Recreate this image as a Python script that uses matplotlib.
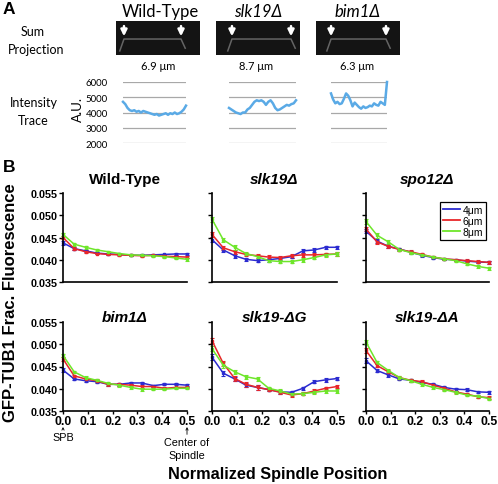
import numpy as np
import matplotlib
matplotlib.use("Agg")
import matplotlib.pyplot as plt
from matplotlib.lines import Line2D

plt.rcParams['font.family'] = ['Liberation Sans', 'DejaVu Sans']

# ---- panel A data ----
strains_a = ['Wild-Type', 'slk19Δ', 'bim1Δ']
italic_a = [False, True, True]
lengths_a = ['6.9 μm', '8.7 μm', '6.3 μm']
spb_left = [0.095, 0.19, 0.179]
spb_right = [0.774, 0.893, 0.833]
trace_ticks = [2000, 3000, 4000, 5000, 6000]

trace_wt = [4700, 4550, 4300, 4150, 4100, 4150, 4050, 4100, 4000, 4100, 4050, 4000,
            3950, 3900, 3850, 3900, 3800, 3850, 3900, 3950, 3850, 3950, 3900, 4000,
            3900, 3950, 4050, 4200, 4450]
trace_slk19 = [4300, 4200, 4100, 4000, 3950, 3900, 4000, 4000, 4200, 4300, 4500, 4700,
               4800, 4750, 4800, 4700, 4500, 4700, 4800, 4600, 4300, 4150, 4200, 4300,
               4400, 4500, 4450, 4550, 4600, 4800]
trace_bim1 = [5250, 4850, 4600, 4700, 4550, 4600, 4900, 5250, 5100, 4800, 4400, 4650,
              4500, 4350, 4250, 4400, 4300, 4350, 4450, 4400, 4600, 4500, 4450, 4700,
              4600, 4500, 6000]

# ---- panel B data ----
pos = [0.0, 0.045, 0.091, 0.136, 0.182, 0.227, 0.273, 0.318, 0.364, 0.409, 0.455, 0.5]
sizes = ['4μm', '6μm', '8μm']
titles_b = ['Wild-Type', 'slk19Δ', 'spo12Δ', 'bim1Δ', 'slk19-ΔG', 'slk19-ΔA']
y_ticks = [0.035, 0.040, 0.045, 0.050, 0.055]
x_ticks = [0.0, 0.1, 0.2, 0.3, 0.4, 0.5]

wt_4 = [0.0438, 0.0425, 0.0420, 0.0415, 0.0413, 0.0412, 0.0410, 0.0410, 0.0411, 0.0412, 0.0413, 0.0413]
wt_6 = [0.0450, 0.0425, 0.0418, 0.0414, 0.0412, 0.0411, 0.0410, 0.0409, 0.0410, 0.0408, 0.0407, 0.0406]
wt_8 = [0.0457, 0.0435, 0.0428, 0.0422, 0.0418, 0.0414, 0.0411, 0.0410, 0.0409, 0.0407, 0.0404, 0.0401]
wt_err = [0.0004, 0.0003, 0.0003, 0.0002, 0.0002, 0.0002, 0.0002, 0.0002, 0.0002, 0.0002, 0.0003, 0.0003]

slk_4 = [0.0445, 0.0422, 0.0409, 0.0401, 0.0398, 0.0400, 0.0403, 0.0407, 0.0420, 0.0422, 0.0428, 0.0428]
slk_6 = [0.0457, 0.0427, 0.0418, 0.0412, 0.0409, 0.0406, 0.0405, 0.0409, 0.0411, 0.0411, 0.0412, 0.0413]
slk_8 = [0.0491, 0.0445, 0.0428, 0.0414, 0.0407, 0.0398, 0.0396, 0.0396, 0.0400, 0.0405, 0.0411, 0.0413]
slk_err = [0.0006, 0.0005, 0.0005, 0.0004, 0.0004, 0.0004, 0.0003, 0.0004, 0.0004, 0.0004, 0.0004, 0.0004]

spo_4 = [0.0464, 0.0442, 0.0430, 0.0424, 0.0417, 0.0410, 0.0405, 0.0401, 0.0400, 0.0397, 0.0395, 0.0394]
spo_6 = [0.0469, 0.0440, 0.0430, 0.0423, 0.0418, 0.0412, 0.0406, 0.0402, 0.0400, 0.0398, 0.0396, 0.0394]
spo_8 = [0.0486, 0.0455, 0.0440, 0.0423, 0.0416, 0.0411, 0.0406, 0.0402, 0.0398, 0.0391, 0.0385, 0.0381]
spo_err = [0.0005, 0.0005, 0.0004, 0.0003, 0.0003, 0.0003, 0.0003, 0.0002, 0.0002, 0.0003, 0.0003, 0.0003]

bim_4 = [0.0442, 0.0422, 0.0418, 0.0416, 0.0410, 0.0410, 0.0413, 0.0413, 0.0407, 0.0410, 0.0410, 0.0408]
bim_6 = [0.0467, 0.0429, 0.0422, 0.0418, 0.0410, 0.0410, 0.0408, 0.0405, 0.0405, 0.0401, 0.0403, 0.0403]
bim_8 = [0.0475, 0.0438, 0.0425, 0.0419, 0.0412, 0.0408, 0.0403, 0.0399, 0.0399, 0.0399, 0.0401, 0.0401]
bim_err = [0.0004, 0.0003, 0.0003, 0.0003, 0.0003, 0.0003, 0.0003, 0.0003, 0.0002, 0.0002, 0.0002, 0.0002]

dg_4 = [0.0471, 0.0435, 0.0422, 0.0408, 0.0403, 0.0398, 0.0393, 0.0392, 0.0401, 0.0416, 0.0420, 0.0423]
dg_6 = [0.0508, 0.0457, 0.0423, 0.0410, 0.0403, 0.0398, 0.0392, 0.0386, 0.0389, 0.0395, 0.0401, 0.0405]
dg_8 = [0.0490, 0.0453, 0.0438, 0.0427, 0.0422, 0.0401, 0.0395, 0.0388, 0.0389, 0.0392, 0.0395, 0.0395]
dg_err = [0.0006, 0.0006, 0.0005, 0.0005, 0.0005, 0.0004, 0.0004, 0.0004, 0.0004, 0.0004, 0.0004, 0.0004]

da_4 = [0.0463, 0.0441, 0.0431, 0.0422, 0.0419, 0.0414, 0.0410, 0.0403, 0.0399, 0.0398, 0.0393, 0.0392]
da_6 = [0.0486, 0.0452, 0.0438, 0.0425, 0.0419, 0.0416, 0.0408, 0.0401, 0.0393, 0.0388, 0.0382, 0.0380]
da_8 = [0.0505, 0.0459, 0.0441, 0.0425, 0.0418, 0.0410, 0.0403, 0.0398, 0.0392, 0.0386, 0.0383, 0.0378]
da_err = [0.0005, 0.0004, 0.0004, 0.0003, 0.0003, 0.0003, 0.0003, 0.0003, 0.0003, 0.0003, 0.0003, 0.0003]

panel_series = [(wt_4, wt_6, wt_8, wt_err), (slk_4, slk_6, slk_8, slk_err),
                (spo_4, spo_6, spo_8, spo_err), (bim_4, bim_6, bim_8, bim_err),
                (dg_4, dg_6, dg_8, dg_err), (da_4, da_6, da_8, da_err)]
colors = ['#2b2bd0', '#e8262a', '#6ee62a']

fig = plt.figure(figsize=(4.98, 4.85), dpi=100)
W, H = 498.0, 485.0


def px_axes(x0, y0, x1, y1):
    return fig.add_axes([x0 / W, 1 - y1 / H, (x1 - x0) / W, (y1 - y0) / H])


afont = ['Lato', 'DejaVu Sans']

# ---------------- Panel A ----------------
fig.text(3 / W, 1 - 9 / H, 'A', fontsize=12.5, fontweight='bold', va='center')
fig.text(33 / W, 1 - 32 / H, 'Sum', fontsize=9, ha='center', va='center', family=afont)
fig.text(36 / W, 1 - 50 / H, 'Projection', fontsize=9, ha='center', va='center', family=afont)
fig.text(34 / W, 1 - 103 / H, 'Intensity', fontsize=9, ha='center', va='center', family=afont)
fig.text(33 / W, 1 - 121 / H, 'Trace', fontsize=9, ha='center', va='center', family=afont)
fig.text(78 / W, 1 - 110 / H, 'A.U.', fontsize=9.5, ha='center', va='center', rotation=90, family=afont)

img_x = [116, 216, 316]
len_x = [158, 256, 357]
trace_x = [(123, 186), (229, 296), (331, 387)]
traces = [trace_wt, trace_slk19, trace_bim1]
title_x = [160, 258, 358]

for i in range(3):
    fig.text(title_x[i] / W, 1 - 12 / H, strains_a[i], fontsize=12, ha='center', va='center',
             style='italic' if italic_a[i] else 'normal', family=afont)
    ax = px_axes(img_x[i], 22, img_x[i] + 84, 56)
    ax.set_facecolor('#141414')
    ax.set_xlim(0, 1)
    ax.set_ylim(0, 1)
    ax.set_xticks([])
    ax.set_yticks([])
    for s in ax.spines.values():
        s.set_visible(False)
    l, r = spb_left[i], spb_right[i]
    ax.plot([l - 0.05, l, r, r + 0.05], [0.12, 0.47, 0.47, 0.2], color='#9a9a9a', lw=1.1, alpha=0.6)
    for xa in (l, r):
        ax.annotate('', xy=(xa, 0.55), xytext=(xa, 0.85),
                    arrowprops=dict(arrowstyle='-|>', color='white', lw=1.8, mutation_scale=9,
                                    shrinkA=0, shrinkB=0))
    fig.text(len_x[i] / W, 1 - 66 / H, lengths_a[i], fontsize=8, ha='center', va='center', family=afont)

    tax = px_axes(trace_x[i][0], 83, trace_x[i][1], 144)
    tax.set_ylim(2000, 6000)
    tax.set_xlim(0, len(traces[i]) - 1)
    for t in trace_ticks:
        tax.axhline(t, color='#a8a8a8', lw=0.9, zorder=1)
    tax.plot(range(len(traces[i])), traces[i], color='#5aaae6', lw=1.8, zorder=2, clip_on=False)
    for s in tax.spines.values():
        s.set_visible(False)
    tax.set_xticks([])
    tax.set_yticks(trace_ticks)
    tax.tick_params(axis='y', length=0, pad=11, labelsize=7)
    if i > 0:
        tax.set_yticklabels([])
    else:
        for lab in tax.get_yticklabels():
            lab.set_family(afont)

# ---------------- Panel B ----------------
fig.text(3 / W, 1 - 168 / H, 'B', fontsize=12.5, fontweight='bold', va='center')

cols = [(63, 187), (212, 337), (366, 489)]
rows = [(194, 283), (323, 412)]
title_y = [1.16, 1.06]

for k in range(6):
    r, c = divmod(k, 3)
    ax = px_axes(cols[c][0], rows[r][0], cols[c][1], rows[r][1])
    s4, s6, s8, err = panel_series[k]
    for series, col in zip((s4, s6, s8), colors):
        ax.errorbar(pos, series, yerr=err, color=col, lw=1.1, marker='s', ms=1.8,
                    elinewidth=0.8, capsize=1.5, capthick=0.8, clip_on=False)
    ax.set_xlim(0, 0.5)
    ax.set_ylim(0.035, 0.055)
    ax.set_yticks(y_ticks)
    ax.spines['top'].set_visible(False)
    ax.spines['right'].set_visible(False)
    ax.spines['left'].set_linewidth(1.2)
    ax.spines['bottom'].set_linewidth(1.2)
    ax.tick_params(axis='y', length=3, width=1, labelsize=7.8, pad=1)
    if c == 0:
        ax.set_yticklabels(['%.3f' % v for v in y_ticks], fontweight='bold')
    else:
        ax.set_yticklabels([])
    if r == 0:
        ax.set_xticks([])
    else:
        ax.set_xticks(x_ticks)
        ax.set_xticklabels(['%.1f' % v for v in x_ticks], fontweight='bold', fontsize=8.8)
        ax.tick_params(axis='x', length=2, width=1, pad=1)
    ax.text(0.5, title_y[r], titles_b[k], transform=ax.transAxes, ha='center', va='center',
            fontsize=11, fontweight='bold', style='normal' if k == 0 else 'italic')
    if k == 2:
        handles = [Line2D([], [], color=col, lw=1.3) for col in colors]
        leg = ax.legend(handles, sizes, loc='upper right', bbox_to_anchor=(1.02, 0.96), fontsize=7.5,
                        handlelength=1.6, handletextpad=0.3, borderpad=0.3, labelspacing=0.1,
                        fancybox=False, edgecolor='black', framealpha=1)
        leg.get_frame().set_linewidth(0.9)
    if k == 3:
        ax.annotate('SPB', xy=(0.0, -0.18), xytext=(0.0, -0.29), xycoords='axes fraction',
                    textcoords='axes fraction', ha='center', va='center', fontsize=7.8,
                    arrowprops=dict(arrowstyle='->', lw=0.6, color='black', shrinkA=3, shrinkB=0,
                                    mutation_scale=4))
        ax.annotate('Center of\nSpindle', xy=(1.0, -0.18), xytext=(1.0, -0.42), xycoords='axes fraction',
                    textcoords='axes fraction', ha='center', va='center', fontsize=7.8,
                    linespacing=1.3,
                    arrowprops=dict(arrowstyle='->', lw=0.6, color='black', shrinkA=9, shrinkB=0,
                                    mutation_scale=4))

fig.text(11 / W, 1 - 303 / H, 'GFP-TUB1 Frac. Fluorescence', rotation=90, fontsize=12,
         fontweight='bold', ha='center', va='center')
fig.text(278 / W, 1 - 475 / H, 'Normalized Spindle Position', fontsize=11.7,
         fontweight='bold', ha='center', va='center')

fig.savefig('out.png', dpi=100)
